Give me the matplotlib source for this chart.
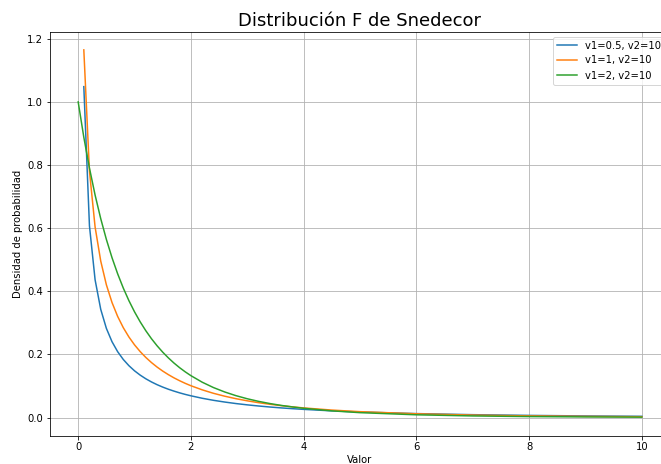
import numpy as np
import matplotlib
matplotlib.use("Agg")
import matplotlib.pyplot as plt

# sample points along the x axis
X = [0.0, 0.1, 0.2, 0.3, 0.4, 0.5, 0.6, 0.7, 0.8, 0.9, 1.0,
     1.1, 1.2, 1.3, 1.4, 1.5, 1.6, 1.7, 1.8, 1.9, 2.0, 2.2, 2.4, 2.6,
     2.8, 3.0, 3.2, 3.4, 3.6, 3.8, 4.0, 4.5,
     5.0, 6.0, 7.0, 8.0, 9.0, 10.0]

# density values per (v1, v2); nan where the density is unbounded
F_05_10 = [np.nan, 1.0484, 0.6073, 0.4366, 0.3429, 0.2827, 0.2404, 0.2088,
           0.1841, 0.1644, 0.1481,
           0.1345, 0.1229, 0.1129, 0.1042, 0.0966, 0.0898, 0.0838, 0.0783,
           0.0734, 0.0690, 0.0612, 0.0547, 0.0492,
           0.0444, 0.0403, 0.0367, 0.0335, 0.0307, 0.0282, 0.0260, 0.0213,
           0.0177, 0.0126, 0.0092, 0.0069, 0.0052, 0.0040]
F_1_10 = [np.nan, 1.1649, 0.7803, 0.6038, 0.4959, 0.4208, 0.3646, 0.3206,
          0.2849, 0.2553, 0.2303,
          0.2090, 0.1905, 0.1743, 0.1600, 0.1473, 0.1360, 0.1258, 0.1167,
          0.1084, 0.1009, 0.0879, 0.0769, 0.0677,
          0.0598, 0.0531, 0.0472, 0.0422, 0.0378, 0.0340, 0.0306, 0.0238,
          0.0187, 0.0120, 0.0079, 0.0054, 0.0038, 0.0027]
F_2_10 = [1.0, 0.8880, 0.7903, 0.7050, 0.6302, 0.5645, 0.5066, 0.4556,
          0.4104, 0.3704, 0.3349,
          0.3033, 0.2751, 0.2499, 0.2274, 0.2072, 0.1891, 0.1727, 0.1580,
          0.1448, 0.1328, 0.1121, 0.0951, 0.0811,
          0.0694, 0.0596, 0.0514, 0.0445, 0.0386, 0.0337, 0.0294, 0.0213,
          0.0156, 0.0088, 0.0052, 0.0032, 0.0021, 0.0014]

SERIES = [("v1=0.5, v2=10", F_05_10),
          ("v1=1, v2=10", F_1_10),
          ("v1=2, v2=10", F_2_10)]

fig = plt.figure(figsize=(661 / 72, 464 / 72), dpi=72)
ax = fig.add_axes([50 / 661, 28.5 / 464, 620 / 661, 404 / 464])

for label, y in SERIES:
    ax.plot(X, y, label=label)

ax.set_title("Distribución F de Snedecor", fontsize=18)
ax.set_xlabel("Valor", labelpad=2.5)
ax.set_ylabel("Densidad de probabilidad")
ax.grid(True)
ax.legend()

fig.savefig("out.png", dpi=72)
